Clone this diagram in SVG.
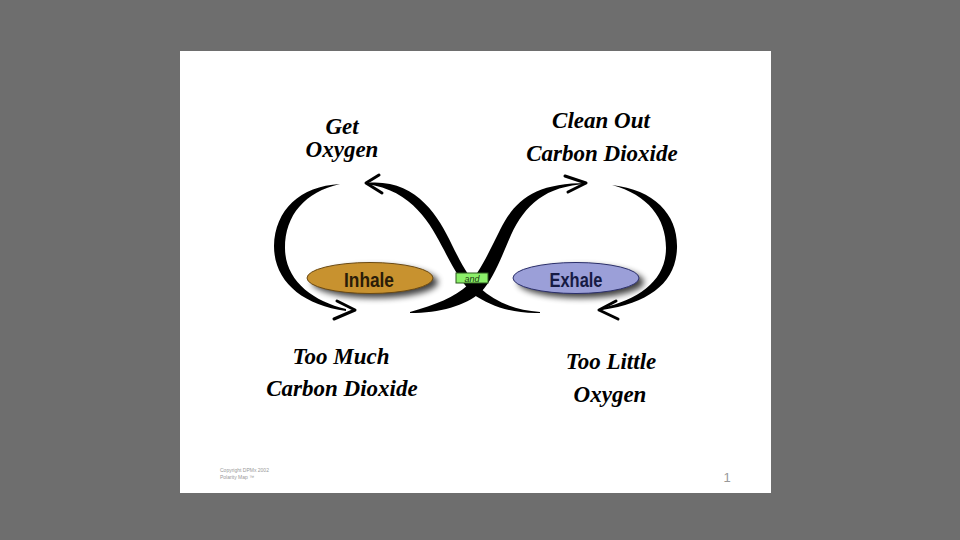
<svg xmlns="http://www.w3.org/2000/svg" width="960" height="540" viewBox="0 0 960 540">
<defs>
<style>
.lbl{font-family:"Liberation Serif","Times New Roman",serif;font-weight:bold;font-style:italic;font-size:23px;fill:#000;text-anchor:middle}
.ov{font-family:"Liberation Sans",Arial,sans-serif;font-weight:bold;font-size:21px;text-anchor:middle}
.stroke{fill:#000}
.head{fill:none;stroke:#000;stroke-width:3;stroke-linecap:round;stroke-linejoin:round}
.small{font-family:"Liberation Sans",Arial,sans-serif;fill:#999}
</style>
<filter id="sh" x="-20%" y="-50%" width="140%" height="200%">
<feGaussianBlur stdDeviation="3"/>
</filter>
</defs>
<rect x="0" y="0" width="960" height="540" fill="#6e6e6e"/>
<rect x="180" y="51" width="591" height="442" fill="#fff"/>

<g id="connectors">
<path id="left-loop" class="stroke" d="M340,184 C300,186 275,210 274,246 C274,281 302,305 346,311 L346,309 C312,301 285,280 285,248 C285,215 305,192 340,184 Z"/>
<path class="head" d="M337,301 L355,310 L334,319"/>
<path id="x-stroke-1" class="stroke" d="M366,183 C415,178 438,215 452,245 C462,265 470,280 480,288 C495,302 515,310 540,312 L540,313 C510,314 490,305 474,295 C463,285 453,268 444,250 C431,225 413,190 366,184 Z"/>
<path class="head" d="M379,175 L366,183 L382,193"/>
<path id="x-stroke-2" class="stroke" d="M410,312 C435,305 455,297 468,285 C480,272 490,250 500,230 C515,200 535,183 587,183 L587,184 C545,186 525,205 511,235 C501,258 493,280 481,292 C465,306 440,313 410,313 Z"/>
<path class="head" d="M565,176 L586,183 L568,192"/>
<path id="right-loop" class="stroke" d="M612,185 C655,190 678,215 677,248 C676,282 650,303 602,310 L602,308 C640,299 666,280 666,248 C666,218 648,195 612,185 Z"/>
<path class="head" d="M616,301 L599,310 L618,319"/>
</g>

<g id="inhale">
<ellipse cx="375" cy="282" rx="63" ry="16" fill="#000" opacity="0.75" filter="url(#sh)"/>
<ellipse cx="370" cy="278" rx="63" ry="15.5" fill="#c8922f" stroke="#6b4a14" stroke-width="1"/>
<text class="ov" x="369" y="287" fill="#2a1c08" textLength="50" lengthAdjust="spacingAndGlyphs">Inhale</text>
</g>

<g id="exhale">
<ellipse cx="581" cy="282" rx="63" ry="16" fill="#000" opacity="0.75" filter="url(#sh)"/>
<ellipse cx="576" cy="278" rx="63" ry="15.5" fill="#9b9fd8" stroke="#2b2f6a" stroke-width="1"/>
<text class="ov" x="576" y="287" fill="#161a44" textLength="53" lengthAdjust="spacingAndGlyphs">Exhale</text>
</g>

<g id="and">
<rect x="456" y="273" width="32" height="10" fill="#8cf06a" stroke="#2d5a1e" stroke-width="1"/>
<text x="472" y="281.5" font-family="Liberation Sans, Arial, sans-serif" font-style="italic" font-size="9" fill="#1a3a10" text-anchor="middle">and</text>
</g>

<g id="get-oxygen">
<text class="lbl" x="342" y="134" font-size="21">Get</text>
<text class="lbl" x="342" y="157" font-size="21">Oxygen</text>
</g>
<g id="clean-out">
<text class="lbl" x="601" y="128">Clean Out</text>
<text class="lbl" x="602" y="161">Carbon Dioxide</text>
</g>
<g id="too-much">
<text class="lbl" x="341" y="364">Too Much</text>
<text class="lbl" x="342" y="396">Carbon Dioxide</text>
</g>
<g id="too-little">
<text class="lbl" x="611" y="369">Too Little</text>
<text class="lbl" x="610" y="402">Oxygen</text>
</g>

<text class="small" x="220" y="472" font-size="5">Copyright DPMx 2002</text>
<text class="small" x="220" y="479" font-size="5">Polarity Map ™</text>
<text class="small" x="727" y="482" font-size="13" text-anchor="middle" fill="#888">1</text>
</svg>
